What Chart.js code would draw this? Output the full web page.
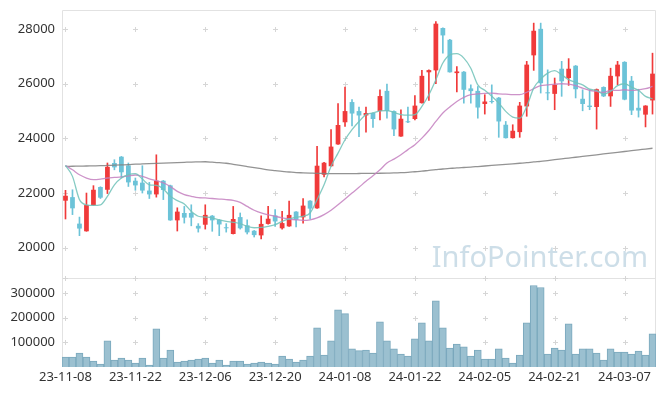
<!DOCTYPE html>
<html>
<head>
<meta charset="utf-8">
<script src="https://cdn.jsdelivr.net/npm/chart.js@4.4.1/dist/chart.umd.min.js"></script>
<style>
  html, body { margin: 0; padding: 0; background: #fff; }
  #stockChart { display: block; }
</style>
</head>
<body>
<canvas id="stockChart" width="665" height="396"></canvas>
<script>
// Trading days
const dates = [
    '23-11-08', '23-11-09', '23-11-10', '23-11-13', '23-11-14', '23-11-15', '23-11-16', '23-11-17', '23-11-20', '23-11-21',
    '23-11-22', '23-11-23', '23-11-24', '23-11-27', '23-11-28', '23-11-29', '23-11-30', '23-12-01', '23-12-04', '23-12-05',
    '23-12-06', '23-12-07', '23-12-08', '23-12-11', '23-12-12', '23-12-13', '23-12-14', '23-12-15', '23-12-18', '23-12-19',
    '23-12-20', '23-12-21', '23-12-22', '23-12-26', '23-12-27', '23-12-28', '24-01-02', '24-01-03', '24-01-04', '24-01-05',
    '24-01-08', '24-01-09', '24-01-10', '24-01-11', '24-01-12', '24-01-15', '24-01-16', '24-01-17', '24-01-18', '24-01-19',
    '24-01-22', '24-01-23', '24-01-24', '24-01-25', '24-01-26', '24-01-29', '24-01-30', '24-01-31', '24-02-01', '24-02-02',
    '24-02-05', '24-02-06', '24-02-07', '24-02-08', '24-02-13', '24-02-14', '24-02-15', '24-02-16', '24-02-19', '24-02-20',
    '24-02-21', '24-02-22', '24-02-23', '24-02-26', '24-02-27', '24-02-28', '24-02-29', '24-03-04', '24-03-05', '24-03-06',
    '24-03-07', '24-03-08', '24-03-11', '24-03-12', '24-03-13'
];

const openPrices = [
    21720, 21850, 20880, 20600, 21550, 22220, 22120, 23100, 23330, 23010,
    22450, 22380, 22090, 21950, 22450, 22280, 21000, 21270, 21270, 20800,
    20840, 21170, 21020, 20740, 20500, 21120, 20820, 20620, 20450, 20870,
    21180, 20710, 20780, 21320, 21110, 21720, 21440, 22670, 22980, 23780,
    24590, 25330, 25000, 24840, 24930, 25000, 25740, 25000, 24070, 24620,
    24710, 25290, 26420, 26490, 28040, 27610, 26390, 26440, 25830, 25740,
    25260, 25360, 25490, 24500, 24010, 24230, 25170, 27040, 28010, 25680,
    25630, 26550, 26210, 26660, 25450, 25200, 25150, 25880, 25540, 26270,
    26800, 26110, 25120, 24870, 25390
];
const highPrices = [
    22100, 22120, 21120, 22000, 22270, 22230, 23100, 23220, 23340, 23100,
    22550, 23000, 22390, 23400, 22460, 22290, 21460, 21510, 21570, 20880,
    21570, 21180, 21030, 20880, 21510, 21270, 21020, 20630, 21170, 21510,
    21390, 21330, 21710, 21320, 21800, 21720, 23710, 23120, 24320, 25270,
    25880, 25420, 25150, 25150, 24940, 25780, 25990, 25010, 25050, 25150,
    25570, 26490, 26510, 28280, 28050, 27630, 26630, 26450, 25960, 25900,
    25600, 25960, 25500, 24620, 24500, 25320, 26820, 28220, 28220, 26510,
    26210, 26820, 26920, 26670, 25780, 25780, 25810, 25890, 26570, 26820,
    26810, 26270, 25800, 25200, 27120
];
const lowPrices = [
    21050, 21210, 20440, 20600, 21550, 21800, 21980, 22850, 22550, 22240,
    22100, 22000, 21800, 21850, 21760, 21000, 20610, 20900, 20800, 20570,
    20680, 20600, 20440, 20570, 20500, 20680, 20500, 20390, 20320, 20860,
    20780, 20680, 20780, 20760, 20900, 21050, 21440, 22590, 22980, 23780,
    24440, 24460, 24060, 24230, 24400, 24680, 24740, 24100, 24070, 24580,
    24680, 25290, 25390, 26000, 27120, 26420, 25700, 25290, 25290, 24740,
    24890, 25290, 24040, 24010, 24010, 24040, 24810, 26490, 25660, 25410,
    25050, 25540, 25940, 25480, 25010, 25050, 24340, 25530, 25170, 25960,
    25410, 24870, 24780, 24420, 24890
];
const closePrices = [
    21900, 21440, 20700, 21560, 22120, 21830, 22960, 22940, 22760, 22390,
    22280, 22090, 21950, 22450, 22110, 21000, 21320, 21100, 21100, 20700,
    21200, 21000, 20850, 20710, 21050, 20710, 20560, 20460, 20870, 21060,
    20960, 20900, 21200, 21020, 21540, 21430, 23000, 23110, 23700, 24490,
    25000, 24910, 24840, 24930, 24710, 25550, 25000, 24330, 24720, 24590,
    25200, 26290, 26500, 28200, 27770, 26420, 26450, 25780, 25730, 25130,
    25350, 25330, 24620, 24010, 24280, 25200, 26700, 27940, 26020, 25650,
    25960, 26090, 26550, 25800, 25260, 25150, 25800, 25540, 26290, 26700,
    25420, 25020, 25020, 25200, 26370
];

// Moving averages (5 / 20 / 120 days)
const ma5 = [
    23010, 22610, 21760, 21570, 21550, 21570, 21880, 22300, 22550, 22670,
    22710, 22510, 22300, 22280, 22150, 21880, 21720, 21600, 21330, 21150,
    21120, 21090, 21020, 20960, 20930, 20880, 20780, 20730, 20740, 20780,
    20840, 20960, 21050, 21120, 21150, 21270, 21760, 22300, 22980, 23460,
    23950, 24320, 24620, 24870, 24930, 25010, 25020, 24950, 24870, 24850,
    24870, 25170, 25600, 26150, 26760, 27060, 27100, 26940, 26570, 25960,
    25760, 25540, 25290, 24990, 24780, 24740, 25170, 25840, 26170, 26390,
    26480, 26330, 26150, 26050, 25960, 25800, 25760, 25620, 25720, 25930,
    26000, 25880, 25760, 25540, 25450
];
const ma20 = [
    23010, 22850, 22670, 22550, 22490, 22510, 22550, 22570, 22590, 22630,
    22660, 22610, 22520, 22450, 22370, 22240, 22060, 21940, 21880, 21830,
    21820, 21800, 21780, 21760, 21730, 21660, 21510, 21370, 21270, 21200,
    21150, 21090, 21050, 21020, 21000, 21020, 21090, 21210, 21370, 21570,
    21780, 22000, 22210, 22430, 22630, 22850, 23100, 23240, 23400, 23590,
    23770, 24010, 24290, 24620, 24930, 25150, 25350, 25500, 25600, 25630,
    25650, 25660, 25630, 25620, 25600, 25600, 25690, 25820, 25930, 25960,
    25990, 26000, 25990, 25930, 25840, 25760, 25720, 25680, 25760, 25760,
    25780, 25760, 25780, 25820, 25900
];
const ma120 = [
    22975, 22980, 22985, 22990, 22995, 23000, 23010, 23020, 23030, 23040,
    23055, 23065, 23075, 23085, 23095, 23105, 23115, 23125, 23135, 23140,
    23145, 23130, 23110, 23090, 23050, 23010, 22970, 22930, 22890, 22850,
    22820, 22790, 22770, 22750, 22740, 22730, 22720, 22715, 22710, 22710,
    22710, 22710, 22715, 22720, 22720, 22725, 22730, 22735, 22745, 22760,
    22780, 22800, 22830, 22855, 22880, 22900, 22920, 22935, 22950, 22970,
    22990, 23010, 23030, 23050, 23070, 23090, 23110, 23140, 23160, 23190,
    23220, 23250, 23280, 23310, 23340, 23370, 23400, 23430, 23460, 23490,
    23520, 23550, 23580, 23610, 23640
];

const volumes = [
    40500, 40500, 56800, 40500, 24300, 12200, 105400, 28400, 36500, 28400,
    16200, 36500, 8100, 154000, 36500, 68900, 20300, 24300, 28400, 32400,
    36500, 16200, 28400, 8100, 24300, 24300, 12200, 16200, 20300, 16200,
    12200, 44600, 32400, 20300, 28400, 44600, 158100, 48600, 105400, 231000,
    216000, 73000, 66200, 68900, 56800, 182400, 105400, 73000, 52700, 44600,
    113500, 178400, 105400, 267600, 158100, 77000, 93200, 81100, 44600, 68900,
    32400, 32400, 73000, 36500, 16200, 48600, 178400, 329700, 321600, 52700,
    77000, 68900, 174300, 52700, 73000, 73000, 56800, 28400, 73000, 60800,
    60800, 52700, 64900, 48600, 133800
];

const priceTicks = [20000, 22000, 24000, 26000, 28000];
const volumeTicks = [100000, 200000, 300000];

const upColor = '#f03a3a';
const downColor = '#6cc3d8';
const candleColors = closePrices.map((c, i) => c >= openPrices[i] ? upColor : downColor);

// Frame, small grid crosses and watermark
const panelDecor = {
    id: 'panelDecor',
    beforeDatasetsDraw(chart) {
        const { ctx, chartArea, scales } = chart;
        const x = scales.x, y = scales.y, yVol = scales.yVol;
        ctx.save();

        ctx.font = '29px "Noto Sans"';
        ctx.fillStyle = 'rgba(172, 200, 216, 0.6)';
        ctx.textAlign = 'right';
        ctx.textBaseline = 'alphabetic';
        ctx.fillText('InfoPointer.com', chartArea.right - 8, y.bottom - 11);

        ctx.strokeStyle = '#e2e2e2';
        ctx.lineWidth = 1;
        const L = Math.round(chartArea.left) + 0.5;
        const R = Math.round(chartArea.right) - 0.5;
        const T = Math.round(y.top) + 0.5;
        const M = Math.round(y.bottom) + 0.5;
        const B = Math.round(yVol.bottom);
        ctx.beginPath();
        ctx.moveTo(L, T); ctx.lineTo(R, T);
        ctx.moveTo(L, M); ctx.lineTo(R, M);
        ctx.moveTo(L, T); ctx.lineTo(L, B);
        ctx.moveTo(R, T); ctx.lineTo(R, B);
        ctx.stroke();

        ctx.strokeStyle = '#d6d6d6';
        const xs = dates.map((d, i) => i).filter(i => i % 10 === 0).map(i => Math.round(x.getPixelForValue(i)) + 0.5);
        const ys = priceTicks.map(v => y.getPixelForValue(v))
            .concat(volumeTicks.map(v => yVol.getPixelForValue(v)), [y.bottom])
            .map(p => Math.round(p) + 0.5);
        ctx.beginPath();
        xs.forEach(px => {
            ys.forEach(py => {
                ctx.moveTo(px - 2.5, py); ctx.lineTo(px + 2.5, py);
                ctx.moveTo(px, py - 2.5); ctx.lineTo(px, py + 2.5);
            });
        });
        ctx.stroke();
        ctx.restore();
    }
};

const tickFont = { family: '"Noto Sans", sans-serif', size: 13 };

// keep the y axes from reserving room for half a label above/below
function fixYAxis(scale) {
    scale.width = 62;
    scale.paddingTop = 0;
    scale.paddingBottom = 0;
}

const ctx = document.getElementById('stockChart').getContext('2d');
const stockChart = new Chart(ctx, {
    data: {
        labels: dates,
        datasets: [
            {
                type: 'line',
                label: 'MA5',
                data: ma5,
                borderColor: 'rgba(112, 194, 184, 0.85)',
                borderWidth: 1.3,
                pointRadius: 0,
                cubicInterpolationMode: 'monotone',
                yAxisID: 'y',
                order: 1
            },
            {
                type: 'line',
                label: 'MA20',
                data: ma20,
                borderColor: 'rgba(196, 128, 192, 0.85)',
                borderWidth: 1.3,
                pointRadius: 0,
                cubicInterpolationMode: 'monotone',
                yAxisID: 'y',
                order: 1
            },
            {
                type: 'line',
                label: 'MA120',
                data: ma120,
                borderColor: 'rgba(128, 128, 128, 0.85)',
                borderWidth: 1.3,
                pointRadius: 0,
                cubicInterpolationMode: 'monotone',
                yAxisID: 'y',
                order: 1
            },
            {
                type: 'bar',
                label: 'wick',
                data: lowPrices.map((l, i) => [l, highPrices[i]]),
                backgroundColor: candleColors,
                barThickness: 1,
                grouped: false,
                yAxisID: 'y',
                order: 3
            },
            {
                type: 'bar',
                label: 'body',
                data: openPrices.map((o, i) => [o, closePrices[i]]),
                backgroundColor: candleColors,
                barPercentage: 0.68,
                categoryPercentage: 1,
                minBarLength: 1,
                grouped: false,
                yAxisID: 'y',
                order: 2
            },
            {
                type: 'bar',
                label: 'Volume',
                data: volumes,
                backgroundColor: '#9bc0d0',
                borderColor: '#7aa8bd',
                borderWidth: 1,
                barPercentage: 1,
                categoryPercentage: 1,
                grouped: false,
                yAxisID: 'yVol',
                order: 4
            }
        ]
    },
    options: {
        responsive: false,
        animation: false,
        events: [],
        layout: { padding: { left: 0, top: 10, right: 9, bottom: 0 } },
        plugins: {
            legend: { display: false },
            tooltip: { enabled: false }
        },
        scales: {
            x: {
                type: 'category',
                grid: { display: false, drawTicks: false },
                border: { display: false },
                afterFit: scale => { scale.height = 29; },
                ticks: {
                    autoSkip: false,
                    maxRotation: 0,
                    minRotation: 0,
                    padding: 2,
                    color: '#333',
                    font: tickFont,
                    callback: (value, index) => index % 10 === 0 ? dates[index] : ''
                }
            },
            yVol: {
                type: 'linear',
                position: 'left',
                stack: 'panels',
                stackWeight: 89,
                min: 0,
                max: 360000,
                grid: { display: false, drawTicks: false },
                border: { display: false },
                afterFit: fixYAxis,
                afterBuildTicks: scale => {
                    scale.ticks = volumeTicks.map(v => ({ value: v }));
                },
                ticks: { padding: 7, color: '#333', font: tickFont, callback: v => String(v) }
            },
            y: {
                type: 'linear',
                position: 'left',
                stack: 'panels',
                stackWeight: 268,
                min: 18890,
                max: 28700,
                grid: { display: false, drawTicks: false },
                border: { display: false },
                afterFit: fixYAxis,
                afterBuildTicks: scale => {
                    scale.ticks = priceTicks.map(v => ({ value: v }));
                },
                ticks: { padding: 7, color: '#333', font: tickFont, callback: v => String(v) }
            }
        }
    },
    plugins: [panelDecor]
});
</script>
</body>
</html>
